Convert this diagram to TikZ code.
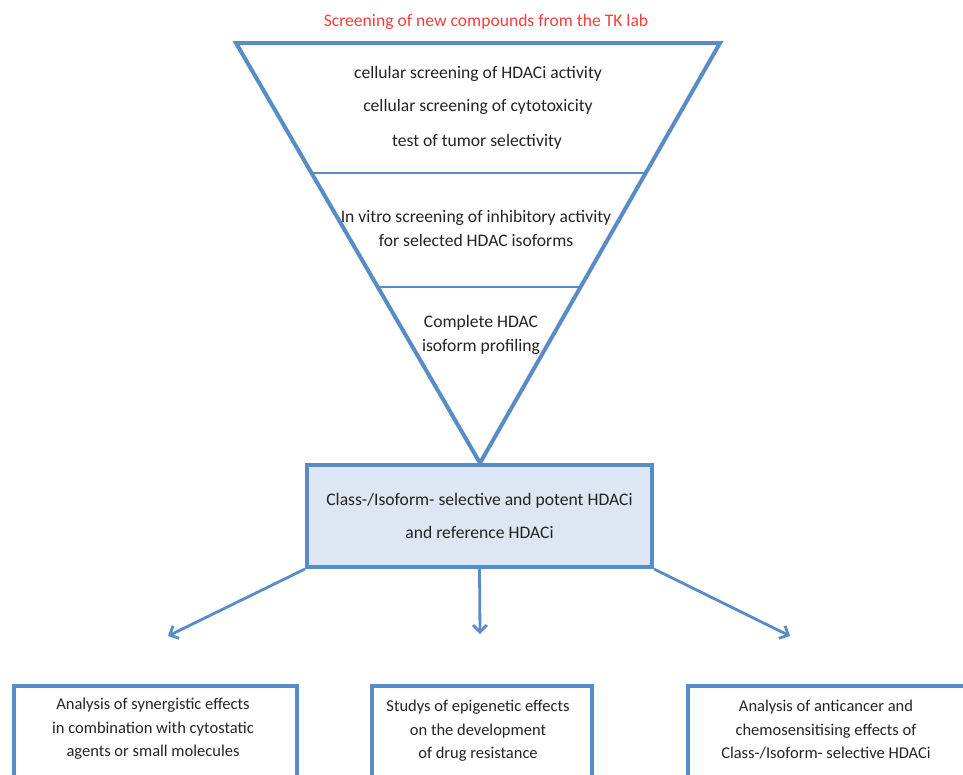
\documentclass[tikz,border=0pt]{standalone}
\usepackage{fontspec}
\setmainfont{Carlito}
\usetikzlibrary{arrows.meta}
\definecolor{lineblue}{RGB}{88,140,198}
\definecolor{boxfill}{RGB}{221,230,242}
\definecolor{titlered}{RGB}{250,60,60}
\definecolor{txt}{RGB}{35,35,35}
\tikzset{
  funnel/.style={draw=lineblue, line width=4pt, line join=miter},
  divider/.style={draw=lineblue, line width=2.6pt},
  label/.style={text=txt, font=\fontsize{17.6}{24}\selectfont, align=center, inner sep=0pt},
  smalllabel/.style={text=txt, font=\fontsize{16.5}{23.5}\selectfont, align=center, inner sep=0pt},
  centerbox/.style={draw=lineblue, fill=boxfill, line width=4pt},
  outbox/.style={draw=lineblue, line width=4pt},
  conn/.style={draw=lineblue, line width=2.8pt, -{Straight Barb[length=7pt,width=14pt,line width=2.8pt]}},
}
\begin{document}
\begin{tikzpicture}[x=1pt,y=-1pt]
\useasboundingbox (0,0) rectangle (963,774);
\clip (0,0) rectangle (963,774);
% funnel
\coordinate (tl) at (236,43);
\coordinate (tr) at (720,43);
\coordinate (apex) at (480,463);
\draw[funnel] (tl) -- (tr) -- (apex) -- cycle;
\coordinate (d1l) at (312,173);
\coordinate (d1r) at (646,173);
\coordinate (d2l) at (378,287);
\coordinate (d2r) at (581,287);
\draw[divider] (d1l) -- (d1r);
\draw[divider] (d2l) -- (d2r);
% texts
\node[text=titlered, font=\fontsize{17.6}{20}\selectfont, inner sep=0pt] (title) at (486,22) {Screening of new compounds from the TK lab};
\node[label] (t1) at (478,74) {cellular screening of HDACi activity};
\node[label] (t2) at (478,107) {cellular screening of cytotoxicity};
\node[label] (t3) at (477,142) {test of tumor selectivity};
\node[label] (t4) at (476,228) {In vitro screening of inhibitory activity\\for selected HDAC isoforms};
\node[label] (t5) at (481,335) {Complete HDAC\\isoform profiling};
% center box
\node[centerbox, minimum width=345pt, minimum height=102pt, inner sep=0pt] (cb) at (479.5,516) {};
\node[label, font=\fontsize{17.6}{33}\selectfont] (cbt) at (cb.center) {Class-/Isoform- selective and potent HDACi\\and reference HDACi};
% bottom boxes
\node[outbox, minimum width=283pt, minimum height=120pt, inner sep=0pt, anchor=north west] (b1) at (12,684) {};
\node[outbox, minimum width=220pt, minimum height=120pt, inner sep=0pt, anchor=north west] (b2) at (370,684) {};
\node[outbox, minimum width=300pt, minimum height=120pt, inner sep=0pt, anchor=north west] (b3) at (686,684) {};
\node[smalllabel] (b1t) at (153,729) {Analysis of synergistic effects\\in combination with cytostatic\\agents or small molecules};
\node[smalllabel] (b2t) at (478,731) {Studys of epigenetic effects\\on the development\\of drug resistance};
\node[smalllabel] (b3t) at (826,730) {Analysis of anticancer and\\chemosensitising effects of\\Class-/Isoform- selective HDACi};
% arrows
\coordinate (a1) at (168,636);
\coordinate (a2) at (480,634);
\coordinate (a3) at (790,636);
\draw[conn] (cb.south west) -- (a1);
\draw[conn] (cb.south) -- (a2);
\draw[conn] (cb.south east) -- (a3);
\end{tikzpicture}
\end{document}
